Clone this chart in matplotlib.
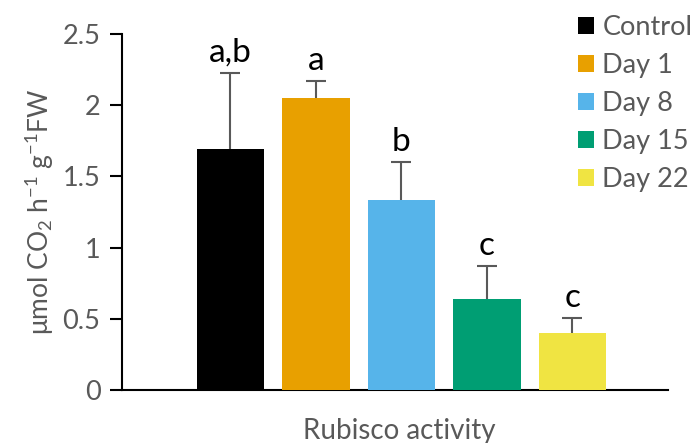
import numpy as np
import matplotlib
matplotlib.use("Agg")
import matplotlib.pyplot as plt
from matplotlib.patches import Patch

# dati
gruppi = ["Control", "Day 1", "Day 8", "Day 15", "Day 22"]
valori = [1.695, 2.053, 1.336, 0.641, 0.40]
errori = [0.533, 0.119, 0.263, 0.230, 0.105]
lettere = ["a,b", "a", "b", "c", "c"]
colori = ["#000000", "#E8A000", "#56B4EA", "#009E73", "#F0E442"]

grigio = "#595959"
plt.rcParams["font.family"] = ["Lato", "DejaVu Sans"]
plt.rcParams["mathtext.fontset"] = "custom"
plt.rcParams["mathtext.rm"] = "Lato"
plt.rcParams["mathtext.it"] = "Lato"

fig = plt.figure(figsize=(6.92, 4.43), dpi=100)
ax = fig.add_axes([122 / 692, 53 / 443, 546 / 692, 356 / 443])

x = np.arange(len(gruppi))
# barre sopra le barre d'errore: la parte inferiore resta nascosta
ax.bar(x, valori, width=0.784, color=colori, zorder=3)
ax.errorbar(x, valori, yerr=errori, fmt="none", ecolor=grigio,
            elinewidth=1.5, capsize=7, capthick=1.5, zorder=2)

for xi, v, e, l in zip(x, valori, errori, lettere):
    ax.annotate(l, (xi, v + e), xytext=(0, 8), textcoords="offset points",
                ha="center", va="baseline", fontsize=24, color="black")

ax.set_xlim(-1.269, 5.117)
ax.set_ylim(0, 2.5)
ax.set_yticks([0, 0.5, 1, 1.5, 2, 2.5])
ax.set_yticklabels(["0", "0.5", "1", "1.5", "2", "2.5"])
ax.set_xticks([])
ax.tick_params(axis="y", direction="out", length=9, width=1.5, colors="black",
               labelcolor=grigio, labelsize=19.5, pad=6.5)
for s in ["top", "right"]:
    ax.spines[s].set_visible(False)
ax.spines["left"].set_linewidth(1.5)
ax.spines["bottom"].set_linewidth(1.5)

ax.set_ylabel("μmol CO$_2$ h$^{-1}$ g$^{-1}$FW", fontsize=19, color=grigio,
              labelpad=5)
fig.text(399 / 692, 12 / 443, "Rubisco activity", ha="center", va="center",
         fontsize=20, color=grigio)

maniglie = [Patch(facecolor=c) for c in colori]
fig.legend(maniglie, gruppi, loc="upper left",
           bbox_to_anchor=(578 / 692, 1 - 15 / 443),
           frameon=False, fontsize=19.5, labelcolor=grigio, handlelength=0.6,
           handleheight=0.6, handletextpad=0.3, labelspacing=0.48,
           borderpad=0, borderaxespad=0)

fig.savefig("out.png", dpi=100)
